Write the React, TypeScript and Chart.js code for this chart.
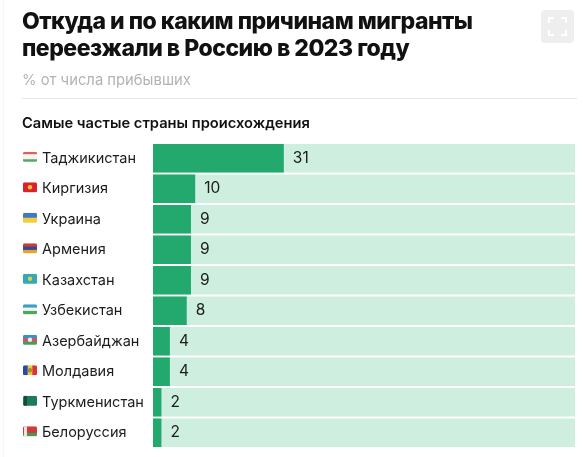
import { Chart, registerables } from "chart.js";
import { useEffect, useRef } from "react";

Chart.register(...registerables);

const countries = ["Таджикистан", "Киргизия", "Украина", "Армения", "Казахстан", "Узбекистан", "Азербайджан", "Молдавия", "Туркменистан", "Белоруссия"];
const shares = [31, 10, 9, 9, 9, 8, 4, 4, 2, 2];
const track = [100, 100, 100, 100, 100, 100, 100, 100, 100, 100];
const flagStripes = [
	["#d9625c", "#f4f4f0", "#f4f4f0", "#5aa56a"],
	["#d8232f"],
	["#3f78c8", "#f2cf3a"],
	["#cf3a34", "#2f4a9a", "#ef9f2e"],
	["#35a7b5"],
	["#3aa0c8", "#f4f4f0", "#4fa85a"],
	["#3a8fc4", "#d8505a", "#4c9a5a"],
	["#2a4aa8", "#f0c93a", "#d8323a"],
	["#1f7a55"],
	["#cf3a3a", "#cf3a3a", "#3f9a55"],
];
const verticalFlags = ["Молдавия"];
// small emblem in the middle of the flag, where there is one
const flagDots = [null, "#f4c430", null, null, "#d8d24a", null, "#e8eef0", "#a88a3a", null, null];
// band along the hoist side
const flagHoists = [null, null, null, null, null, null, null, null, "#0f4f38", "#f0e4e0"];

const sideLabels = {
	id: "sideLabels",
	afterDatasetsDraw(chart: any) {
		const { ctx, scales } = chart;
		const bars = chart.getDatasetMeta(0).data;
		ctx.save();
		ctx.font = "15.5px Inter";
		ctx.fillStyle = "#1c1c1c";
		ctx.textBaseline = "middle";
		bars.forEach((bar: any, i: number) => {
			ctx.fillText(String(shares[i]), bar.x + 9, bar.y);
		});
		// flags
		countries.forEach((name, i) => {
			const y = scales.y.getPixelForValue(i) - 1.5;
			const stripes = flagStripes[i];
			const fx = 23;
			const fw = 14;
			const fh = 10;
			const fy = y - fh / 2;
			ctx.save();
			ctx.beginPath();
			ctx.roundRect(fx, fy, fw, fh, 1.5);
			ctx.clip();
			stripes.forEach((color, s) => {
				ctx.fillStyle = color;
				if (verticalFlags.includes(name)) {
					ctx.fillRect(fx + (fw * s) / stripes.length, fy, fw / stripes.length + 0.5, fh);
				} else {
					ctx.fillRect(fx, fy + (fh * s) / stripes.length, fw, fh / stripes.length + 0.5);
				}
			});
			if (flagHoists[i]) {
				ctx.fillStyle = flagHoists[i];
				ctx.fillRect(fx + 1, fy, 3, fh);
			}
			if (flagDots[i]) {
				ctx.fillStyle = flagDots[i];
				ctx.beginPath();
				ctx.arc(fx + fw / 2, y, 2.2, 0, Math.PI * 2);
				ctx.fill();
			}
			ctx.restore();
		});
		ctx.restore();
	},
};

const App = () => {
	const chartRef = useRef<HTMLCanvasElement | null>(null);

	useEffect(() => {
		if (!chartRef.current) return;
		const myChart = new Chart(chartRef.current, {
			type: "bar",
			data: {
				labels: countries,
				datasets: [
					{ data: shares, backgroundColor: "#23a86d", borderWidth: 0, order: 0 },
					{ data: track, backgroundColor: "#ceeee0", borderWidth: 0, order: 1 },
				],
			},
			options: {
				indexAxis: "y",
				responsive: false,
				animation: false,
				layout: { padding: { top: 143, bottom: 9, left: 42, right: 10 } },
				datasets: { bar: { categoryPercentage: 1, barPercentage: 0.936 } },
				scales: {
					x: { min: 0, max: 100, display: false },
					y: {
						stacked: true,
						afterFit: (axis: any) => {
							axis.width = 111;
						},
						grid: { display: false },
						border: { display: false },
						ticks: {
							crossAlign: "far",
							padding: 0,
							color: "#1c1c1c",
							font: { family: "Inter", size: 14.5 },
						},
					},
				},
				plugins: { legend: { display: false }, tooltip: { enabled: false } },
			},
			plugins: [sideLabels],
		});
		return () => {
			myChart.destroy();
		};
	}, []);

	return (
		<div style={{ position: "absolute", left: 0, top: 0, width: 585, height: 457, background: "#fff", fontFamily: "Inter", overflow: "hidden" }}>
			<canvas ref={chartRef} width={585} height={457} style={{ position: "absolute", left: 0, top: 0 }} />
			<div style={{ position: "absolute", left: 3, top: 0, width: 1, height: 457, background: "#f5f5f5" }} />
			<div style={{ position: "absolute", left: 22, top: 8, fontSize: 23, lineHeight: "27px", fontWeight: 800, color: "#111", letterSpacing: -0.5, whiteSpace: "nowrap" }}>
				Откуда и по каким причинам мигранты
				<br />
				переезжали в Россию в 2023 году
			</div>
			<div style={{ position: "absolute", left: 22, top: 71, fontSize: 14.8, lineHeight: "18px", color: "#b3b3b3" }}>% от числа прибывших</div>
			<div style={{ position: "absolute", left: 22, top: 98, width: 555, height: 1, background: "#e6e6e6" }} />
			<div style={{ position: "absolute", left: 22, top: 114, fontSize: 14.7, lineHeight: "18px", fontWeight: 600, color: "#111" }}>Самые частые страны происхождения</div>
			<div style={{ position: "absolute", left: 541, top: 10, width: 33, height: 33, background: "#eeeeee", borderRadius: 4 }}>
				<svg width="33" height="33" fill="none" stroke="#fff" strokeWidth="2">
					<path d="M8 13V8h5M20 8h5v5M25 20v5h-5M13 25H8v-5" />
				</svg>
			</div>
		</div>
	);
};

export default App;
